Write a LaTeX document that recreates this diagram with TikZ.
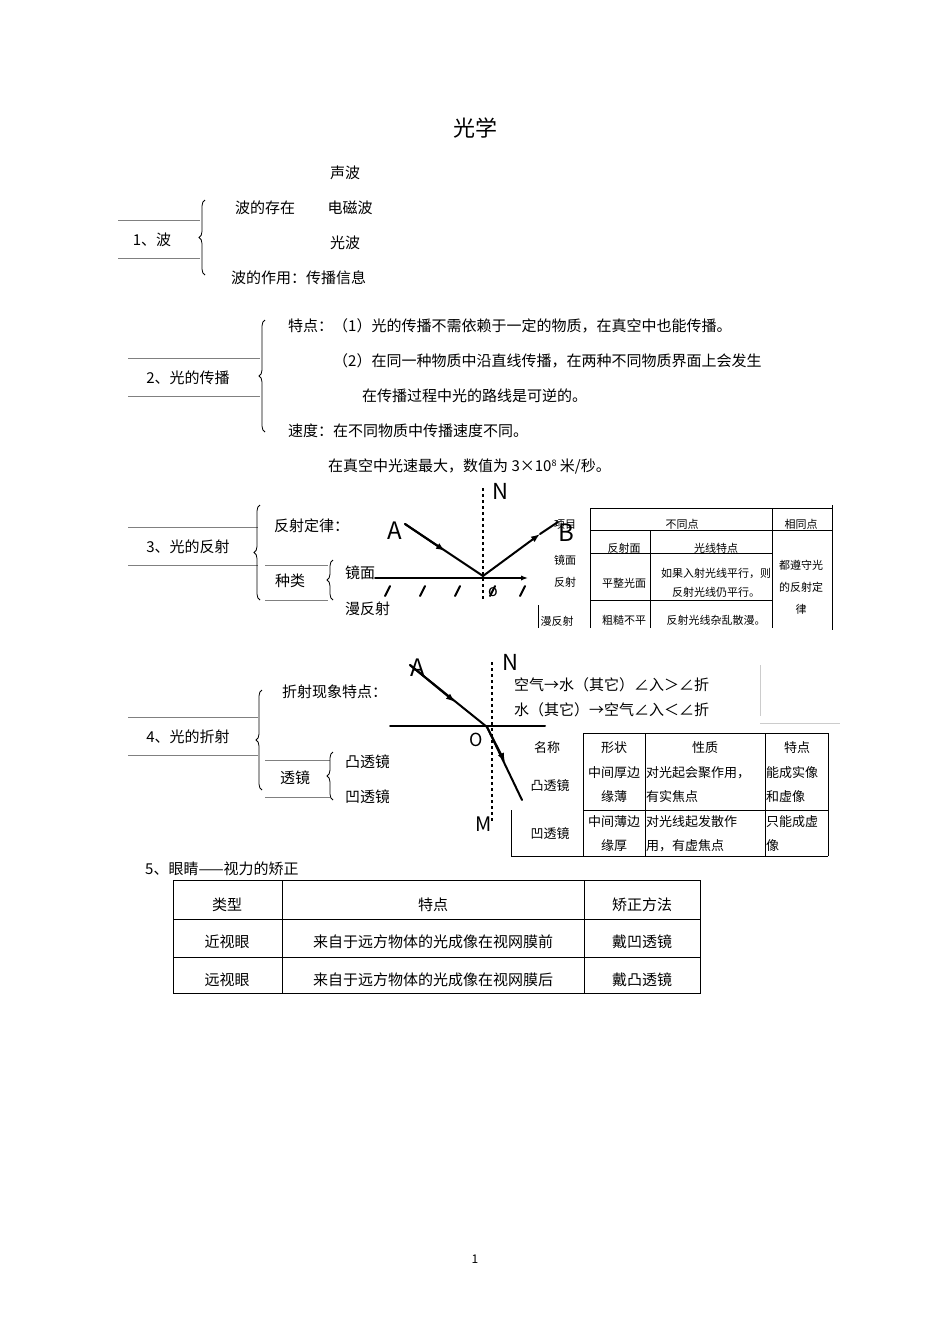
\documentclass[tikz,border=0pt]{standalone}
\usepackage{fontspec}
\setmainfont{Noto Sans CJK SC}
\usetikzlibrary{decorations.pathreplacing,arrows.meta}
\tikzset{
 t/.style={inner sep=0pt,font=\fontsize{15}{15}\selectfont},
 tl/.style={t,anchor=west},
 s/.style={inner sep=0pt,font=\fontsize{11}{12}\selectfont},
 m/.style={inner sep=0pt,font=\fontsize{13}{14}\selectfont},
 ml/.style={m,anchor=west},
 br/.style={decorate,decoration={brace,amplitude=6pt,mirror},thick},
 hw/.style={line width=2pt,line cap=round},
 hl/.style={inner sep=0pt,font=\fontsize{22}{22}\selectfont\sffamily\bfseries},
 ln/.style={line width=0.5pt,gray},
 tb/.style={line width=0.8pt}
}
\begin{document}
\begin{tikzpicture}[x=1pt,y=-1pt]
\useasboundingbox (0,0) rectangle (950,1344);
\node[inner sep=0pt,font=\fontsize{22}{22}\selectfont] (title) at (475,128) {光学};
% 1
\node[t] (a1) at (345,173) {声波};
\node[t] (a2) at (265,208) {波的存在};
\node[t] (a3) at (350,208) {电磁波};
\node[t] (a4) at (345,243) {光波};
\node[tl] (a5) at (231,278) {波的作用：传播信息};
\node[t] (s1) at (152,240) {1、波};
\draw[ln] (118,220)--(200,220) (118,258)--(200,258);
\draw[br] (205,200)--(205,275);
% 2
\node[t] (s2) at (188,378) {2、光的传播};
\draw[ln] (128,358)--(260,358) (128,396)--(260,396);
\draw[br] (265,320)--(265,432);
\node[tl] at (288,326) {特点：（1）光的传播不需依赖于一定的物质，在真空中也能传播。};
\node[tl] at (333,361) {（2）在同一种物质中沿直线传播，在两种不同物质界面上会发生};
\node[tl] at (362,396) {在传播过程中光的路线是可逆的。};
\node[tl] at (288,431) {速度：在不同物质中传播速度不同。};
\node[tl] at (328,466) {在真空中光速最大，数值为 3×10\raisebox{0.5ex}{\fontsize{9}{9}\selectfont 8} 米/秒。};
% 3
\node[t] (s3) at (188,547) {3、光的反射};
\draw[ln] (128,527)--(258,527) (128,565)--(258,565);
\draw[br] (260,505)--(260,600);
\node[tl] at (274,526) {反射定律：};
\draw[ln] (265,565)--(328,565) (265,600)--(328,600);
\node[t] (zl) at (290,581) {种类};
\draw[br] (333,560)--(333,600);
\node[tl] at (345,573) {镜面};
\node[tl] at (345,609) {漫反射};
% reflection sketch
\coordinate (O1) at (483,576);
\coordinate (A1) at (405,524);
\coordinate (B1) at (558,522);
\draw[dashed,line width=1.5pt] (483,488)--(483,600);
\node[inner sep=0pt,font=\fontsize{22}{22}\selectfont] (N1) at (500,491) {N};
\node[inner sep=0pt,font=\fontsize{24}{24}\selectfont] (Al) at (395,531) {A};
\node[inner sep=0pt,font=\fontsize{24}{24}\selectfont] (Bl) at (566,533) {B};
\draw[hw] (A1)--(O1);
\draw[hw,-{Latex[length=9pt]}] (A1)--(445,551);
\draw[hw,-{Latex[length=9pt]}] (O1)--(540,534);
\draw[hw] (540,534)--(B1);
\draw[hw,-{Latex[length=7pt]}] (375,578)--(528,578);
\foreach \x in {385,420,455,490,520} \draw[hw] (\x,596)--(\x+5,586);
\node[inner sep=0pt,font=\fontsize{16}{16}\selectfont] at (493,592) {o};
% reflection table
\node[s] at (565,525) {项目};
\node[s] at (565,560) {镜面};
\node[s] at (565,582) {反射};
\node[s] at (557,621) {漫反射};
\draw[tb] (538,605)--(538,628);
\draw[tb] (590,508)--(832,508);
\draw[tb] (590,508)--(590,628) (650,530)--(650,628) (772,508)--(772,628) (832,505)--(832,630);
\draw[tb] (590,530)--(832,530) (590,553)--(772,553) (590,600)--(772,600);
\node[s] at (682,524) {不同点};
\node[s] at (801,524) {相同点};
\node[s] at (624,548) {反射面};
\node[s] at (716,548) {光线特点};
\node[s] at (624,583) {平整光面};
\node[s] at (716,573) {如果入射光线平行，则};
\node[s] at (716,592) {反射光线仍平行。};
\node[s] at (624,620) {粗糙不平};
\node[s] at (716,620) {反射光线杂乱散漫。};
\node[s] at (801,565) {都遵守光};
\node[s] at (801,587) {的反射定};
\node[s] at (801,609) {律};
% 4
\node[t] (s4) at (188,737) {4、光的折射};
\draw[ln] (128,717)--(258,717) (128,755)--(258,755);
\draw[br] (262,690)--(262,790);
\node[tl] at (282,692) {折射现象特点：};
\draw[ln] (265,760)--(330,760) (265,797)--(330,797);
\node[t] (tj) at (295,778) {透镜};
\draw[br] (333,752)--(333,800);
\begin{scope}
\clip (340,740) rectangle (388,810);
\node[tl] at (345,762) {凸透镜};
\node[tl] at (345,797) {凹透镜};
\end{scope}
% refraction sketch
\coordinate (O2) at (487,727);
\draw[dashed,line width=1.5pt] (492,662)--(492,822);
\draw[hw] (390,726)--(545,726);
\draw[hw] (410,665)--(O2)--(522,800);
\draw[hw,-{Latex[length=9pt]}] (410,665)--(455,702);
\draw[hw,-{Latex[length=9pt]}] (O2)--(505,762);
\node[inner sep=0pt,font=\fontsize{24}{24}\selectfont] at (418,668) {A};
\node[inner sep=0pt,font=\fontsize{22}{22}\selectfont] at (510,662) {N};
\node[inner sep=0pt,font=\fontsize{18}{18}\selectfont] at (476,740) {O};
\node[inner sep=0pt,font=\fontsize{20}{20}\selectfont] at (484,824) {M};
\node[tl] at (514,685) {空气→水（其它）∠入＞∠折};
\node[tl] at (514,710) {水（其它）→空气∠入＜∠折};
\draw[gray!40] (760,665)--(760,716) (760,723)--(840,723);
% lens table
\draw[tb] (583,733)--(828,733) (511,856)--(828,856) (583,810)--(828,810);
\draw[tb] (583,733)--(583,856) (645,733)--(645,856) (765,733)--(765,856) (828,733)--(828,856) (511,810)--(511,856);
\node[m] at (547,748) {名称};
\node[m] at (614,748) {形状};
\node[m] at (705,748) {性质};
\node[m] at (797,748) {特点};
\node[m] at (550,786) {凸透镜};
\node[m] at (614,773) {中间厚边};
\node[m] at (614,797) {缘薄};
\node[ml] at (646,773) {对光起会聚作用，};
\node[ml] at (646,797) {有实焦点};
\node[ml] at (766,773) {能成实像};
\node[ml] at (766,797) {和虚像};
\node[m] at (550,834) {凹透镜};
\node[m] at (614,822) {中间薄边};
\node[m] at (614,846) {缘厚};
\node[ml] at (646,822) {对光线起发散作};
\node[ml] at (646,846) {用，有虚焦点};
\node[ml] at (766,822) {只能成虚};
\node[ml] at (766,846) {像};
% 5
\node[tl] (s5) at (145,869) {5、眼睛——视力的矫正};
\draw[tb] (173,880) rectangle (700,993);
\draw[tb] (282,880)--(282,993) (584,880)--(584,993) (173,919)--(700,919) (173,957)--(700,957);
\node[t] at (227,905) {类型};
\node[t] at (433,905) {特点};
\node[t] at (642,905) {矫正方法};
\node[t] at (227,942) {近视眼};
\node[t] at (433,942) {来自于远方物体的光成像在视网膜前};
\node[t] at (642,942) {戴凹透镜};
\node[t] at (227,980) {远视眼};
\node[t] at (433,980) {来自于远方物体的光成像在视网膜后};
\node[t] at (642,980) {戴凸透镜};
\node[inner sep=0pt,font=\fontsize{12}{12}\selectfont] (pg) at (475,1259) {1};
\end{tikzpicture}
\end{document}
